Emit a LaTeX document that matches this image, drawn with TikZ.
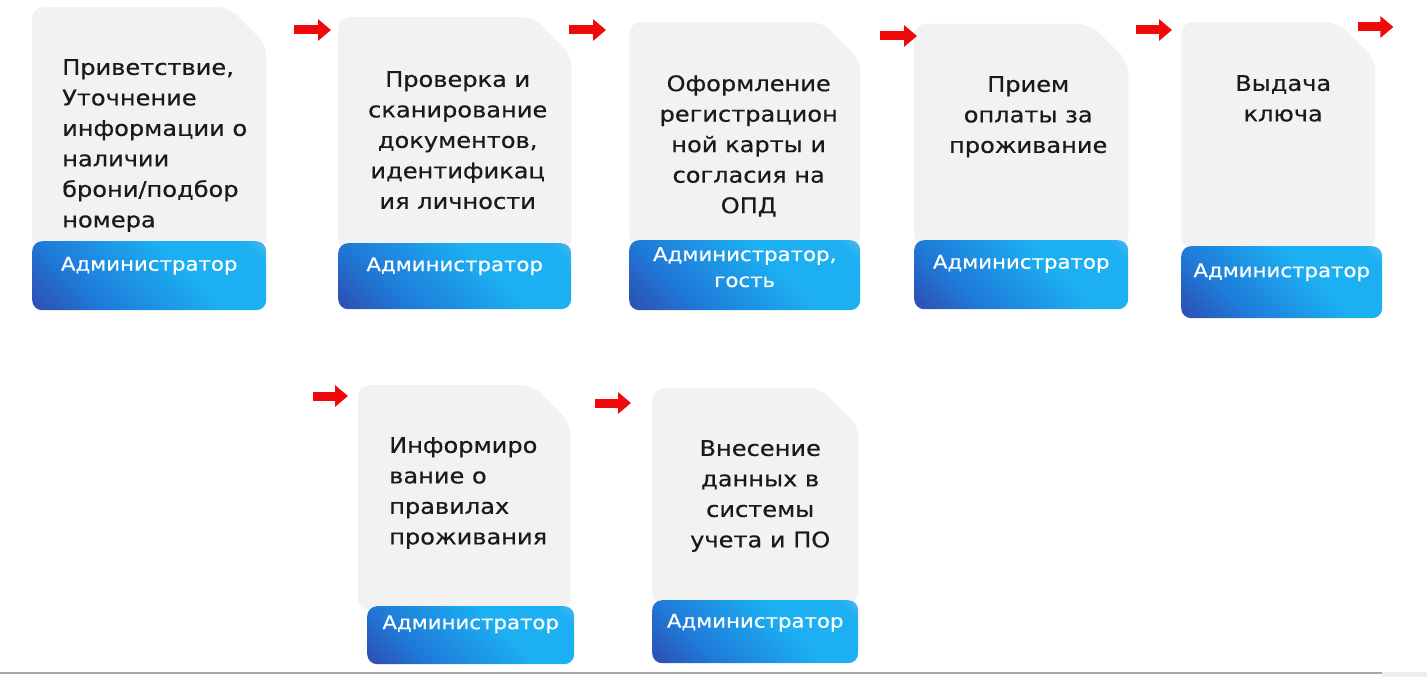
\documentclass[tikz,border=0pt]{standalone}
\usepackage{fontspec}
\setmainfont{DejaVu Sans}[FakeStretch=1.12, FakeBold=0.5]
\usetikzlibrary{positioning, arrows.meta}
\definecolor{cardgray}{HTML}{F2F2F2}
\definecolor{inktext}{HTML}{1A1A1A}
\definecolor{roledark}{HTML}{2E4CAF}
\definecolor{rolemid}{HTML}{1F7AD8}
\definecolor{rolecyan}{HTML}{1CB0F2}
\definecolor{roleglow}{HTML}{92C4E4}
\definecolor{flowred}{HTML}{EE0A0A}
\pgfdeclarehorizontalshading{roleshade}{100bp}{
	color(0bp)=(roledark);
	color(14bp)=(roledark);
	color(32bp)=(rolemid);
	color(60bp)=(rolecyan);
	color(80bp)=(rolecyan);
	color(94bp)=(roleglow);
	color(100bp)=(roleglow)}
\tikzset{
	card/.style={
		rectangle,
		inner sep=0pt,
		anchor=north west,
	},
	cardtext/.style={
		text=inktext,
		font=\fontsize{21.5}{30.5}\selectfont,
		inner sep=0pt,
	},
	role/.style={
		rounded corners=10pt,
		shade,
		shading=roleshade,
		shading angle=45,
		inner sep=0pt,
		anchor=north west,
	},
	roletext/.style={
		text=white,
		font=\fontsize{19}{26}\selectfont,
		align=center,
		inner sep=0pt,
	},
	flow/.style={
		draw=flowred,
		line width=9pt,
		-{Triangle[length=13pt, width=21pt]},
	},
}

\begin{document}
\begin{tikzpicture}[x=1pt, y=1pt]
		\useasboundingbox (0,0) rectangle (1427,-677);

		% Place cards
		\node [card, minimum width=234pt, minimum height=243pt] (box1) at (32,-7) {};
		\node [card, minimum width=233pt, minimum height=233pt] (box2) at (338,-17) {};
		\node [card, minimum width=231pt, minimum height=225pt] (box3) at (629,-22) {};
		\node [card, minimum width=214pt, minimum height=223pt] (box4) at (914,-24) {};
		\node [card, minimum width=194pt, minimum height=226pt] (box5) at (1181,-22) {};
		\node [card, minimum width=212pt, minimum height=225pt] (box6) at (358,-385) {};
		\node [card, minimum width=206pt, minimum height=216pt] (box7) at (652,-388) {};

		% Card sheets with folded corner
		\foreach \i in {1,...,7}
			\fill [cardgray, rounded corners=12pt] (box\i.south west) -- (box\i.north west)
				-- ([xshift=-38pt]box\i.north east) -- ([yshift=-38pt]box\i.north east)
				-- (box\i.south east) -- cycle;

		% Card texts
		\node [cardtext, align=left, anchor=north west] (t1) at ([shift={(30pt,-52pt)}]box1.north west)
			{Приветствие,\\Уточнение\\информации о\\наличии\\брони/подбор\\номера};
		\node [cardtext, align=center, anchor=north] (t2) at ([shift={(3pt,-54pt)}]box2.north)
			{Проверка и\\сканирование\\документов,\\идентификац\\ия личности};
		\node [cardtext, align=center, anchor=north] (t3) at ([shift={(4pt,-53pt)}]box3.north)
			{Оформление\\регистрацион\\ной карты и\\согласия на\\ОПД};
		\node [cardtext, align=center, anchor=north] (t4) at ([shift={(7pt,-52pt)}]box4.north)
			{Прием\\оплаты за\\проживание};
		\node [cardtext, align=center, anchor=north] (t5) at ([shift={(5pt,-53pt)}]box5.north)
			{Выдача\\ключа};
		\node [cardtext, align=left, anchor=north west] (t6) at ([shift={(31pt,-52pt)}]box6.north west)
			{Информиро\\вание о\\правилах\\проживания};
		\node [cardtext, align=center, anchor=north] (t7) at ([shift={(5pt,-52pt)}]box7.north)
			{Внесение\\данных в\\системы\\учета и ПО};

		% Role labels
		\node [role, minimum width=234pt, minimum height=69pt] (r1) at (32,-241) {};
		\node [role, minimum width=233pt, minimum height=66pt] (r2) at (338,-243) {};
		\node [role, minimum width=231pt, minimum height=70pt] (r3) at (629,-240) {};
		\node [role, minimum width=214pt, minimum height=69pt] (r4) at (914,-240) {};
		\node [role, minimum width=201pt, minimum height=72pt] (r5) at (1181,-246) {};
		\node [role, minimum width=207pt, minimum height=58pt] (r6) at (367,-606) {};
		\node [role, minimum width=206pt, minimum height=63pt] (r7) at (652,-600) {};

		\node [roletext] (l1) at ([yshift=10pt]r1.center) {Администратор};
		\node [roletext] (l2) at ([yshift=10pt]r2.center) {Администратор};
		\node [roletext] (l3) at ([yshift=8pt]r3.center) {Администратор,\\гость};
		\node [roletext] (l4) at ([yshift=11pt]r4.center) {Администратор};
		\node [roletext] (l5) at ([yshift=10pt]r5.center) {Администратор};
		\node [roletext] (l6) at ([yshift=11pt]r6.center) {Администратор};
		\node [roletext] (l7) at ([yshift=9pt]r7.center) {Администратор};

		% Arrows
		\coordinate (p2) at ([shift={(-44pt,-13pt)}]box2.north west);
		\coordinate (p3) at ([shift={(-60pt,-8pt)}]box3.north west);
		\coordinate (p4) at ([shift={(-34pt,-12pt)}]box4.north west);
		\coordinate (p5) at ([shift={(-45pt,-8pt)}]box5.north west);
		\coordinate (p6) at ([shift={(-17pt,-5pt)}]box5.north east);
		\coordinate (p7) at ([shift={(-45pt,-11pt)}]box6.north west);
		\coordinate (p8) at ([shift={(-57pt,-15pt)}]box7.north west);

		\draw [flow] (p2) -- ++(37,0);
		\draw [flow] (p3) -- ++(37,0);
		\draw [flow] (p4) -- ++(37,0);
		\draw [flow] (p5) -- ++(36,0);
		\draw [flow] (p6) -- ++(35,0);
		\draw [flow] (p7) -- ++(35,0);
		\draw [flow] (p8) -- ++(36,0);

		% Bottom rule
		\draw [black!35, line width=1.2pt] (0,-673) -- (1382,-673);
		\fill [black!7] (1382,-672.4) rectangle (1427,-677);

	\end{tikzpicture}
\end{document}
